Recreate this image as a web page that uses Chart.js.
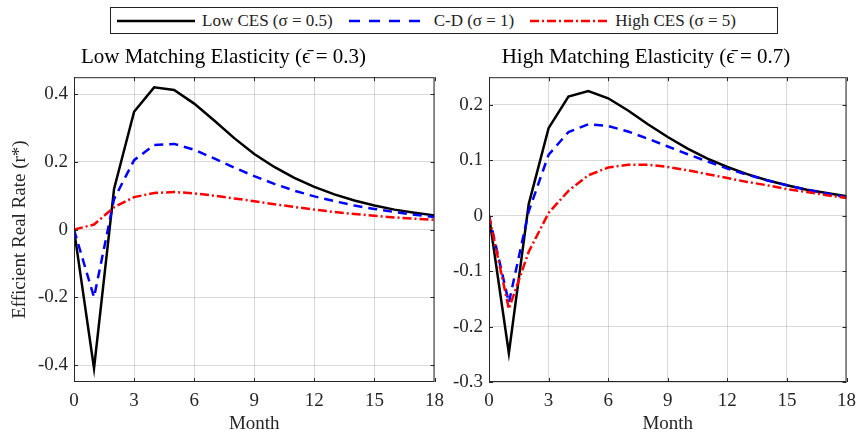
<!DOCTYPE html>
<html>
<head>
<meta charset="utf-8">
<script src="https://cdn.jsdelivr.net/npm/chart.js@4"></script>
<style>
  body { margin: 0; background: #fff; width: 864px; height: 432px; position: relative; overflow: hidden; font-family: "Liberation Serif", "DejaVu Serif", serif; }
  #legend { position: absolute; left: 110px; top: 7px; width: 666px; height: 25px; border: 1px solid #222; display: flex; align-items: center; font-size: 17px; color: #222; }
  #legend .item { display: flex; align-items: center; margin-left: 6px; margin-right: 10px; }
  #legend svg { margin-right: 7px; }
  .wrap { position: absolute; top: 40px; height: 392px; }
</style>
</head>
<body>
<div id="legend"></div>
<div class="wrap" style="left:0;width:452px"><canvas id="c1"></canvas></div>
<div class="wrap" style="left:440px;width:424px"><canvas id="c2"></canvas></div>
<script>
const months = [0,1,2,3,4,5,6,7,8,9,10,11,12,13,14,15,16,17,18];
const seriesNames = ['Low CES (\u03c3 = 0.5)', 'C-D (\u03c3 = 1)', 'High CES (\u03c3 = 5)'];

// low matching elasticity (eps = 0.3)
const lowLowCES  = [0,-0.41,0.12,0.348,0.42,0.412,0.372,0.322,0.27,0.223,0.185,0.153,0.126,0.104,0.086,0.071,0.059,0.05,0.042];
const lowCD      = [0,-0.20,0.09,0.205,0.25,0.253,0.236,0.21,0.183,0.158,0.135,0.115,0.098,0.084,0.071,0.061,0.052,0.044,0.037];
const lowHighCES = [0,0.015,0.066,0.096,0.108,0.111,0.107,0.100,0.092,0.084,0.075,0.067,0.059,0.052,0.046,0.041,0.036,0.032,0.029];

// high matching elasticity (eps = 0.7)
const highLowCES  = [0,-0.248,0.021,0.158,0.215,0.225,0.212,0.19,0.165,0.142,0.121,0.103,0.088,0.075,0.064,0.055,0.047,0.041,0.035];
const highCD      = [0,-0.157,0.008,0.11,0.151,0.165,0.162,0.152,0.139,0.125,0.111,0.098,0.085,0.074,0.064,0.055,0.047,0.04,0.033];
const highHighCES = [0,-0.168,-0.065,0.005,0.045,0.073,0.087,0.092,0.092,0.088,0.082,0.075,0.068,0.061,0.055,0.048,0.043,0.037,0.032];

const xTicks = [0,3,6,9,12,15,18];
const leftYTicks = [-0.4,-0.2,0,0.2,0.4];
const rightYTicks = [-0.3,-0.2,-0.1,0,0.1,0.2];

const colors = ['#000000', '#0000ff', '#ff0000'];
const dashes = [[], [9,6], [9,3,2,3]];

// html legend with small svg line samples
const legendEl = document.getElementById('legend');
const svgDash = ['', '11,9', '9,3,2,3'];
seriesNames.forEach((name, i) => {
  const item = document.createElement('div');
  item.className = 'item';
  item.innerHTML = `<svg width="78" height="6"><line x1="0" y1="3" x2="78" y2="3" stroke="${colors[i]}" stroke-width="2.5" stroke-dasharray="${svgDash[i]}"/></svg><span>${name}</span>`;
  legendEl.appendChild(item);
});

// box + inward ticks like matlab
const boxPlugin = {
  id: 'box',
  afterDraw(chart) {
    const ctx = chart.ctx, a = chart.chartArea;
    const xs = chart.scales.x, ys = chart.scales.y;
    ctx.save();
    ctx.strokeStyle = '#262626';
    ctx.lineWidth = 1;
    ctx.strokeRect(a.left + 0.5, a.top + 0.5, a.right - a.left - 1, a.bottom - a.top - 1);
    ctx.beginPath();
    xs.ticks.forEach(t => {
      const px = Math.round(xs.getPixelForValue(t.value)) + 0.5;
      ctx.moveTo(px, a.bottom); ctx.lineTo(px, a.bottom - 4);
      ctx.moveTo(px, a.top); ctx.lineTo(px, a.top + 4);
    });
    ys.ticks.forEach(t => {
      const py = Math.round(ys.getPixelForValue(t.value)) + 0.5;
      ctx.moveTo(a.left, py); ctx.lineTo(a.left + 4, py);
      ctx.moveTo(a.right, py); ctx.lineTo(a.right - 4, py);
    });
    ctx.stroke();
    ctx.restore();
  }
};

function makeChart(id, title, data, yMin, yMax, yTicks, padLeft, yWidth, padRight, yTitle) {
  const ds = data.map((vals, i) => ({
    label: seriesNames[i],
    data: months.map((m, j) => ({ x: m, y: vals[j] })),
    borderColor: colors[i],
    backgroundColor: colors[i],
    borderWidth: 2.5,
    borderDash: dashes[i],
    pointRadius: 0,
    tension: 0,
    order: 3 - i
  }));
  return new Chart(document.getElementById(id), {
    type: 'line',
    data: { datasets: ds },
    options: {
      responsive: true,
      maintainAspectRatio: false,
      animation: false,
      layout: { padding: { left: padLeft, right: padRight, top: 0, bottom: 0 } },
      plugins: {
        legend: { display: false },
        tooltip: { enabled: false },
        title: {
          display: true,
          text: title,
          color: '#000',
          font: { family: 'Liberation Serif', size: 21, weight: 'normal' },
          padding: { top: 5, bottom: 7 }
        }
      },
      scales: {
        x: {
          type: 'linear',
          min: 0, max: 18,
          afterBuildTicks: s => { s.ticks = xTicks.map(v => ({ value: v })); },
          afterFit: s => { s.height = 50; },
          ticks: { color: '#262626', font: { family: 'Liberation Serif', size: 19 }, padding: 8, maxRotation: 0 },
          grid: { color: 'rgba(0,0,0,0.15)', drawTicks: false },
          border: { display: false },
          title: { display: true, text: 'Month', color: '#262626', font: { family: 'Liberation Serif', size: 19 }, padding: { top: 0, bottom: -3 } }
        },
        y: {
          min: yMin, max: yMax,
          afterBuildTicks: s => { s.ticks = yTicks.map(v => ({ value: v })); },
          afterFit: s => { s.width = yWidth; },
          ticks: { color: '#262626', font: { family: 'Liberation Serif', size: 19 }, padding: 6,
                   callback: v => String(Math.round(v * 10) / 10) },
          grid: { color: 'rgba(0,0,0,0.15)', drawTicks: false },
          border: { display: false },
          title: { display: !!yTitle, text: yTitle || '', color: '#262626', font: { family: 'Liberation Serif', size: 19 }, padding: { top: 0, bottom: 0 } }
        }
      }
    },
    plugins: [boxPlugin]
  });
}

makeChart('c1', 'Low Matching Elasticity (\u03f5\u0304 = 0.3)', [lowLowCES, lowCD, lowHighCES],
  -0.45, 0.45, leftYTicks, 9, 65, 14, 'Efficient Real Rate (r*)');
makeChart('c2', 'High Matching Elasticity (\u03f5\u0304 = 0.7)', [highLowCES, highCD, highHighCES],
  -0.3, 0.25, rightYTicks, 0, 49, 12, null);
</script>
</body>
</html>
